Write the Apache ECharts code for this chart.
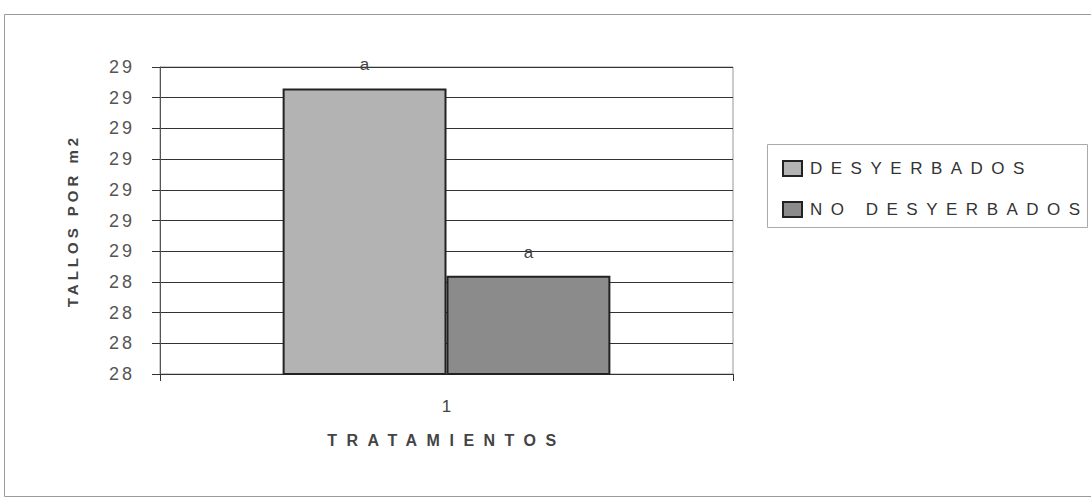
<!DOCTYPE html>
<html>
<head>
<meta charset="utf-8">
<script src="https://cdn.jsdelivr.net/npm/echarts@6/dist/echarts.min.js"></script>
<style>
html,body{margin:0;padding:0;background:#fff;}
#chart{width:1091px;height:498px;}
</style>
</head>
<body>
<div id="chart"></div>
<script>
const categories = ['1'];
const seriesNames = ['DESYERBADOS', 'NO DESYERBADOS'];
const desyerbados = [29.03];
const noDesyerbados = [28.42];
const barLabels = ['a', 'a'];
const yMin = 28.1, yMax = 29.1, yStep = 0.1;
const yTitle = 'TALLOS POR m2';
const xTitle = 'TRATAMIENTOS';

const FONT = '"Liberation Sans", Arial, sans-serif';
const chart = echarts.init(document.getElementById('chart'), null, {renderer: 'svg'});

const barLabel = (txt) => ({
  show: true, position: 'top', distance: 15,
  formatter: () => txt,
  color: '#444', fontSize: 17, fontFamily: FONT
});

chart.setOption({
  animation: false,
  backgroundColor: '#fff',
  textStyle: {fontFamily: FONT},
  graphic: [
    {type: 'rect', shape: {x: 4.5, y: 14.5, width: 1100, height: 482},
     style: {fill: 'none', stroke: '#9a9a9a', lineWidth: 1}, silent: true},
    {type: 'rect', shape: {x: 767.5, y: 144.5, width: 320, height: 83},
     style: {fill: '#fff', stroke: '#aaa', lineWidth: 1}, silent: true, z: 0}
  ],
  grid: {left: 160, right: 358, top: 67, bottom: 124, show: true,
         borderColor: '#999', borderWidth: 1, backgroundColor: 'transparent'},
  legend: {
    orient: 'vertical', left: 777, top: 155, itemWidth: 19, itemHeight: 15, itemGap: 24,
    data: seriesNames, z: 5, icon: 'rect',
    textStyle: {fontSize: 17, color: '#333', fontFamily: FONT, padding: [0, 0, 0, 3]}
  },
  xAxis: {
    type: 'category', data: categories,
    axisLine: {lineStyle: {color: '#333', width: 1}},
    axisTick: {show: true, length: 7, lineStyle: {color: '#333'}},
    axisLabel: {fontSize: 17, color: '#444', margin: 24, fontFamily: FONT},
    name: xTitle, nameLocation: 'middle', nameGap: 58,
    nameTextStyle: {fontSize: 16, fontWeight: 'bold', color: '#444', fontFamily: FONT}
  },
  yAxis: {
    type: 'value', min: yMin, max: yMax, interval: yStep,
    axisLine: {show: true, lineStyle: {color: '#555', width: 1}},
    axisTick: {show: true, length: 8, lineStyle: {color: '#333'}},
    axisLabel: {fontSize: 18, color: '#555', margin: 25, fontFamily: FONT,
                formatter: v => String(Math.round(v + 1e-9))},
    splitLine: {show: true, lineStyle: {color: '#333', width: 1}},
    name: yTitle, nameLocation: 'middle', nameGap: 80, nameRotate: 90,
    nameTextStyle: {fontSize: 15, fontWeight: 'bold', color: '#444', fontFamily: FONT}
  },
  series: [
    {name: seriesNames[0], type: 'bar', data: desyerbados, barWidth: '28.6%', barGap: '0%',
     itemStyle: {color: '#b3b3b3', borderColor: '#222', borderWidth: 2},
     label: barLabel(barLabels[0])},
    {name: seriesNames[1], type: 'bar', data: noDesyerbados, barWidth: '28.6%', barGap: '0%',
     itemStyle: {color: '#8b8b8b', borderColor: '#222', borderWidth: 2},
     label: barLabel(barLabels[1])}
  ]
});

const spacing = {
  '28': 3, '29': 3,
  'DESYERBADOS': 8.5, 'NO DESYERBADOS': 8.5,
  'TRATAMIENTOS': 9.5, 'TALLOS POR m2': 4
};
document.querySelectorAll('#chart svg text').forEach(t => {
  const s = t.textContent;
  if (spacing[s] !== undefined) t.setAttribute('letter-spacing', spacing[s]);
});
</script>
</body>
</html>
